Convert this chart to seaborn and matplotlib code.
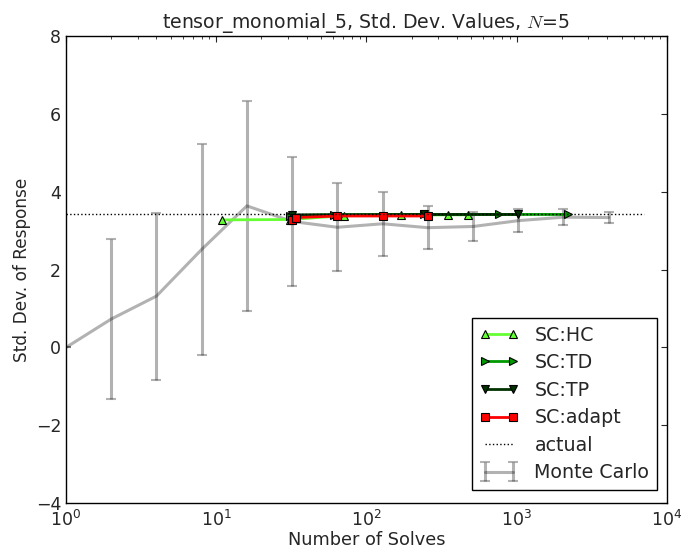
import numpy as np
import matplotlib
matplotlib.use("Agg")
import matplotlib.pyplot as plt
import seaborn as sns

# Monte Carlo estimates: mean and one-std error bars
mc_solves = [1, 2, 4, 8, 16, 32, 64, 128, 256, 512, 1024, 2048, 4096]
mc_mean = [0.0, 0.73, 1.32, 2.52, 3.64, 3.24, 3.09, 3.18, 3.08, 3.11, 3.26, 3.35, 3.34]
mc_err = [0.0, 2.05, 2.15, 2.72, 2.69, 1.66, 1.13, 0.82, 0.55, 0.38, 0.29, 0.20, 0.14]

# Stochastic collocation runs
hc_solves = [11, 31, 71, 171, 351, 471]
hc_std = [3.28, 3.29, 3.39, 3.40, 3.41, 3.41]

td_solves = [31, 61, 241, 761, 2200]
td_std = [3.39, 3.41, 3.42, 3.42, 3.42]

tp_solves = [32, 243, 1024]
tp_std = [3.41, 3.42, 3.42]

adapt_solves = [32, 34, 64, 128, 257]
adapt_std = [3.27, 3.34, 3.38, 3.38, 3.38]

actual_value = 3.42
actual_span = [1, 7000]

sns.set_style("white")
plt.rcParams.update({
    "font.family": ["DejaVu Sans"],
    "xtick.direction": "in",
    "ytick.direction": "in",
    "xtick.top": True,
    "ytick.right": True,
    "xtick.major.size": 4,
    "ytick.major.size": 4,
    "xtick.minor.size": 2,
    "xtick.minor.visible": True,
    "axes.edgecolor": "black",
    "axes.linewidth": 1.0,
})

fig = plt.figure(figsize=(6.82, 5.49), dpi=100)
ax = fig.add_axes([0.0968, 0.0838, 0.881, 0.850])

mc = ax.errorbar(mc_solves, mc_mean, yerr=mc_err, color="black", alpha=0.3,
                 linewidth=2.2, elinewidth=2.2, capsize=3.5, capthick=1.5,
                 label="Monte Carlo", zorder=1)

sns.lineplot(x=hc_solves, y=hc_std, ax=ax, color="#66ff33", linewidth=2,
             marker="^", markersize=5.5, markeredgecolor="black", markeredgewidth=0.8,
             label="SC:HC", sort=False, zorder=3)
sns.lineplot(x=td_solves, y=td_std, ax=ax, color="#009900", linewidth=2,
             marker=">", markersize=5.5, markeredgecolor="black", markeredgewidth=0.8,
             label="SC:TD", sort=False, zorder=3)
sns.lineplot(x=tp_solves, y=tp_std, ax=ax, color="#003300", linewidth=2,
             marker="v", markersize=5.5, markeredgecolor="black", markeredgewidth=0.8,
             label="SC:TP", sort=False, zorder=3)
sns.lineplot(x=adapt_solves, y=adapt_std, ax=ax, color="red", linewidth=2,
             marker="s", markersize=6, markeredgecolor="black", markeredgewidth=0.8,
             label="SC:adapt", sort=False, zorder=4)
sns.lineplot(x=actual_span, y=[actual_value, actual_value], ax=ax, color="black",
             linewidth=1, linestyle=":", label="actual", zorder=5)

ax.set_xscale("log")
ax.set_xlim(1, 1e4)
ax.set_ylim(-4, 8)
ax.set_yticks(np.arange(-4, 9, 2))
ax.set_yticklabels(["\u22124", "\u22122", "0", "2", "4", "6", "8"])
ax.tick_params(axis="both", which="major", labelsize=12.5)
ax.tick_params(axis="x", which="major", pad=5)

ax.set_xlabel("Number of Solves", fontsize=12.8, labelpad=1)
ax.set_ylabel("Std. Dev. of Response", fontsize=12.2, labelpad=3)
ax.set_title("tensor_monomial_5, Std. Dev. Values, $N$=5", fontsize=13.6,
             math_fontfamily="cm")

handles, labels = ax.get_legend_handles_labels()
order = ["SC:HC", "SC:TD", "SC:TP", "SC:adapt", "actual", "Monte Carlo"]
hmap = dict(zip(labels, handles))
leg = ax.legend([hmap[k] for k in order], order, loc="lower right",
                bbox_to_anchor=(657 / 682, 59 / 549), bbox_transform=fig.transFigure,
                fontsize=13.7, frameon=True, fancybox=False, framealpha=1,
                edgecolor="black", numpoints=2, handlelength=2.1,
                borderaxespad=0, labelspacing=0.45)
leg.get_frame().set_linewidth(1.0)

fig.savefig("out.png", dpi=100)
